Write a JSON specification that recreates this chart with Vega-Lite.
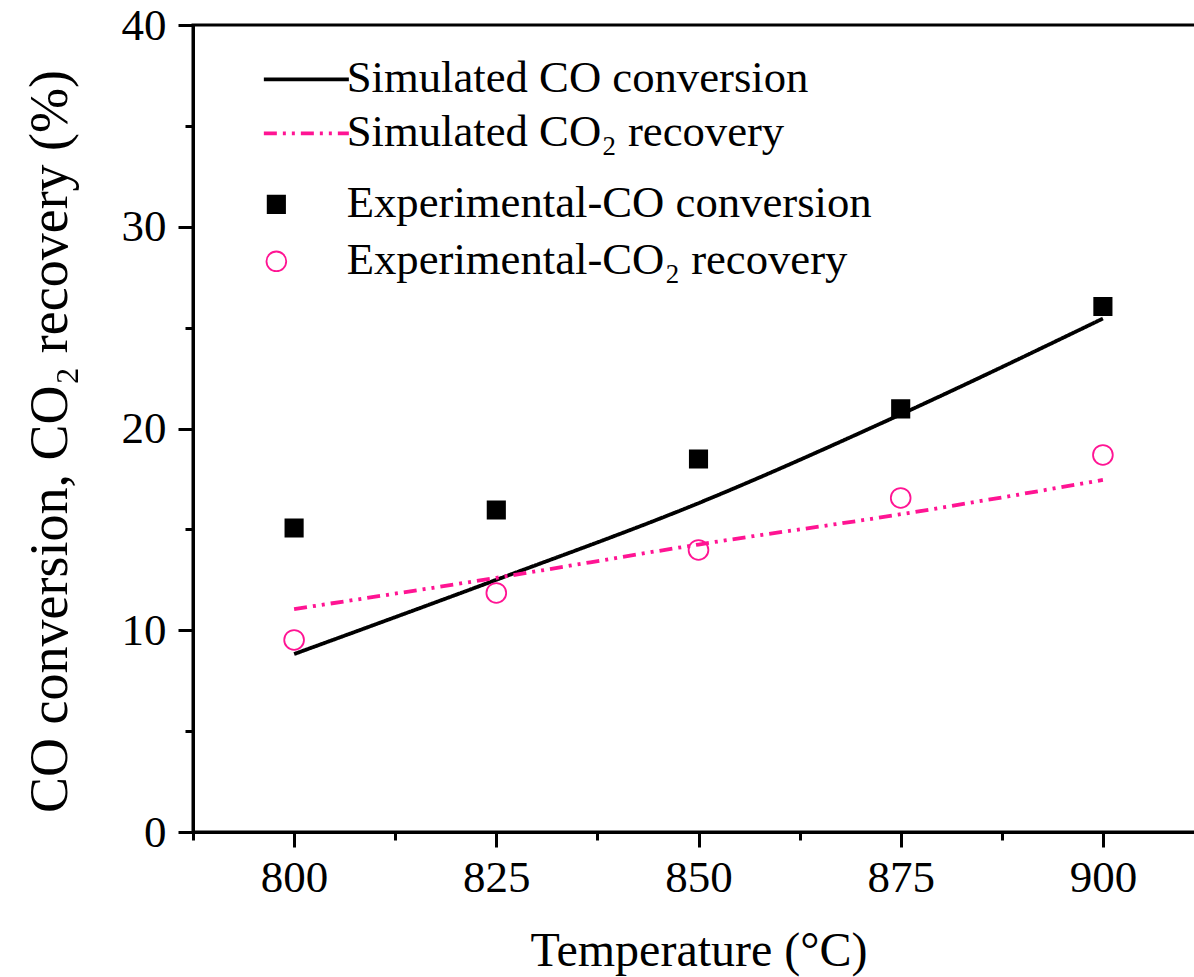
{
  "$schema": "https://vega.github.io/schema/vega-lite/v6.json",
  "width": 1011,
  "height": 807,
  "autosize": {"type": "none"},
  "padding": {"left": 193, "top": 25, "right": 0, "bottom": 145},
  "background": "white",
  "config": {
    "font": "Liberation Serif",
    "view": {"stroke": "black", "strokeWidth": 3},
    "axis": {
      "domainColor": "black", "domainWidth": 3,
      "tickColor": "black", "tickWidth": 3,
      "labelFont": "Liberation Serif", "titleFont": "Liberation Serif",
      "labelColor": "black", "titleColor": "black",
      "grid": false, "titleFontWeight": "normal", "labelLimit": 0, "titleLimit": 0
    },
    "legend": {"labelFont": "Liberation Serif", "labelColor": "black", "padding": 0, "labelLimit": 0}
  },
  "datasets": {
    "sim": [
      {"T": 800, "value": 8.82, "series": "Simulated CO conversion"},
      {"T": 825, "value": 12.5, "series": "Simulated CO conversion"},
      {"T": 850, "value": 16.3, "series": "Simulated CO conversion"},
      {"T": 875, "value": 20.7, "series": "Simulated CO conversion"},
      {"T": 900, "value": 25.45, "series": "Simulated CO conversion"},
      {"T": 800, "value": 11.05, "series": "Simulated CO₂ recovery"},
      {"T": 825, "value": 12.6, "series": "Simulated CO₂ recovery"},
      {"T": 850, "value": 14.25, "series": "Simulated CO₂ recovery"},
      {"T": 875, "value": 15.75, "series": "Simulated CO₂ recovery"},
      {"T": 900, "value": 17.45, "series": "Simulated CO₂ recovery"}
    ],
    "exp": [
      {"T": 800, "value": 15.07, "series": "Experimental-CO conversion"},
      {"T": 825, "value": 15.96, "series": "Experimental-CO conversion"},
      {"T": 850, "value": 18.49, "series": "Experimental-CO conversion"},
      {"T": 875, "value": 20.97, "series": "Experimental-CO conversion"},
      {"T": 900, "value": 26.05, "series": "Experimental-CO conversion"},
      {"T": 800, "value": 9.52, "series": "Experimental-CO₂ recovery"},
      {"T": 825, "value": 11.85, "series": "Experimental-CO₂ recovery"},
      {"T": 850, "value": 13.98, "series": "Experimental-CO₂ recovery"},
      {"T": 875, "value": 16.56, "series": "Experimental-CO₂ recovery"},
      {"T": 900, "value": 18.69, "series": "Experimental-CO₂ recovery"}
    ]
  },
  "layer": [
    {
      "data": {"name": "sim"},
      "mark": {"type": "line", "strokeWidth": 3.8, "interpolate": "monotone"},
      "encoding": {
        "x": {
          "field": "T", "type": "quantitative",
          "scale": {"domain": [787.5, 912.5], "nice": false, "zero": false},
          "axis": {
            "values": [787.5, 800, 812.5, 825, 837.5, 850, 862.5, 875, 887.5, 900, 912.5],
            "labelExpr": "datum.value % 25 === 0 ? datum.label : ''",
            "tickSize": {"condition": {"test": "datum.value % 25 === 0", "value": 15}, "value": 8},
            "labelFontSize": 45, "labelPadding": 8,
            "title": "Temperature (°C)", "titleFontSize": 48, "titlePadding": 27
          }
        },
        "y": {
          "field": "value", "type": "quantitative",
          "scale": {"domain": [0, 40], "nice": false},
          "axis": {
            "values": [0, 5, 10, 15, 20, 25, 30, 35, 40],
            "labelExpr": "datum.value % 10 === 0 ? datum.label : ''",
            "tickSize": {"condition": {"test": "datum.value % 10 === 0", "value": 15}, "value": 8},
            "labelFontSize": 45, "labelPadding": 12,
            "title": "CO conversion, CO₂ recovery (%)", "titleFontSize": 54, "titlePadding": 44, "titleY": 416
          }
        },
        "color": {
          "field": "series", "type": "nominal",
          "scale": {"domain": ["Simulated CO conversion", "Simulated CO₂ recovery"], "range": ["black", "#ff1493"]},
          "legend": {
            "title": null, "orient": "none", "legendX": 91, "legendY": 32,
            "symbolType": "M-2.5,0H2.5", "symbolSize": 1156, "symbolStrokeWidth": 3.8,
            "labelFontSize": 44.7, "labelOffset": 18, "rowPadding": 8
          }
        },
        "strokeDash": {
          "field": "series", "type": "nominal",
          "scale": {"domain": ["Simulated CO conversion", "Simulated CO₂ recovery"], "range": [[1, 0], [13, 6, 3, 6, 3, 6]]}
        }
      }
    },
    {
      "data": {"name": "exp"},
      "mark": {"type": "point", "filled": true, "opacity": 1, "strokeWidth": 1.8},
      "encoding": {
        "x": {"field": "T", "type": "quantitative"},
        "y": {"field": "value", "type": "quantitative"},
        "shape": {
          "field": "series", "type": "nominal",
          "scale": {"domain": ["Experimental-CO conversion", "Experimental-CO₂ recovery"], "range": ["square", "circle"]},
          "legend": {
            "title": null, "orient": "none", "legendX": 70, "legendY": 157,
            "symbolStrokeWidth": 1.8, "symbolOffset": -9,
            "labelFontSize": 44.7, "labelOffset": 48, "rowPadding": 11
          }
        },
        "size": {
          "field": "series", "type": "nominal",
          "scale": {"domain": ["Experimental-CO conversion", "Experimental-CO₂ recovery"], "range": [300, 390]}
        },
        "fill": {
          "field": "series", "type": "nominal",
          "scale": {"domain": ["Experimental-CO conversion", "Experimental-CO₂ recovery"], "range": ["black", "transparent"]}
        },
        "stroke": {
          "field": "series", "type": "nominal",
          "scale": {"domain": ["Experimental-CO conversion", "Experimental-CO₂ recovery"], "range": ["black", "#ff1493"]}
        }
      }
    }
  ]
}
